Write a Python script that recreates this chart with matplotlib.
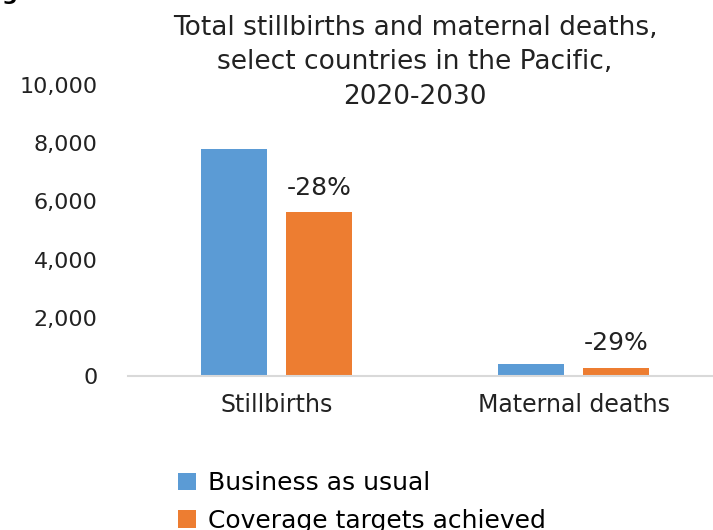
import numpy as np
import matplotlib
matplotlib.use("Agg")
import matplotlib.pyplot as plt
from matplotlib.ticker import FuncFormatter

# data
categories = ["Stillbirths", "Maternal deaths"]
business_as_usual = [7800, 410]
coverage_achieved = [5620, 290]
change_labels = ["-28%", "-29%"]
series_names = ["Business as usual", "Coverage targets achieved"]
yticks = [0, 2000, 4000, 6000, 8000, 10000]

blue = "#5B9BD5"
orange = "#ED7D31"

plt.rcParams['font.family'] = ['DejaVu Sans']

fig = plt.figure(figsize=(7.13, 5.30), dpi=100)
# axes runs a little past the right edge, like the cropped original
ax = fig.add_axes([128 / 713, 1 - 376 / 530, 594 / 713, 291 / 530])

x = np.arange(len(categories))
w = 0.223
off = 0.143
b1 = ax.bar(x - off, business_as_usual, w, color=blue, label=series_names[0])
b2 = ax.bar(x + off, coverage_achieved, w, color=orange, label=series_names[1])

for i, lab in enumerate(change_labels):
    ax.annotate(lab, (x[i] + off, coverage_achieved[i]), xytext=(0, 9),
                textcoords="offset points", ha="center", va="bottom",
                fontsize=18, color="#222222")

ax.set_xlim(-0.5, 1.5)
ax.set_ylim(0, 10000)
ax.set_yticks(yticks)
ax.yaxis.set_major_formatter(FuncFormatter(lambda v, p: f"{int(v):,}"))
ax.set_xticks(x)
ax.set_xticklabels(categories)
ax.tick_params(axis="y", length=0, pad=22, labelsize=16, labelcolor="#222222")
ax.tick_params(axis="x", length=0, pad=12, labelsize=17, labelcolor="#222222")
for s in ["top", "right", "left"]:
    ax.spines[s].set_visible(False)
ax.spines["bottom"].set_color("#D9D9D9")
ax.spines["bottom"].set_linewidth(1.5)

fig.text(415 / 713, 1 - 15 / 530,
         "Total stillbirths and maternal deaths,\nselect countries in the Pacific,\n2020-2030",
         ha="center", va="top", fontsize=19, color="#222222", linespacing=1.42,
         transform=fig.transFigure)
# clipped glyph peeking in at the top-left corner
fig.text(0.003, 1.0, "g", ha="left", va="baseline", fontsize=16, fontweight="bold")

fig.legend([b1, b2], series_names, loc="upper left",
           bbox_to_anchor=(178 / 713, 1 - 471 / 530), frameon=False,
           fontsize=18, handlelength=0.7, handleheight=0.7, handletextpad=0.5,
           labelspacing=0.55, borderaxespad=0, borderpad=0)

fig.savefig("out.png", dpi=100)
